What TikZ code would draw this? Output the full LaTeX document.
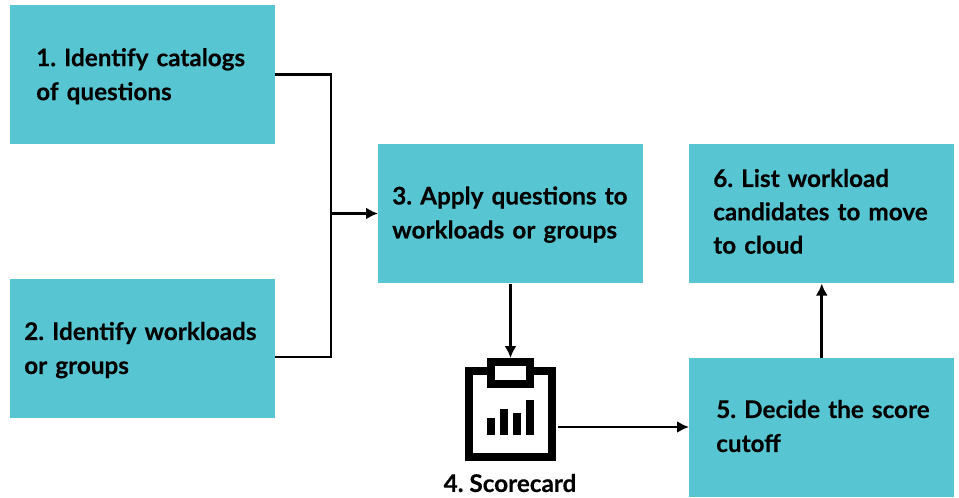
\documentclass[tikz,border=0pt]{standalone}
\usepackage{fontspec}
\setmainfont{Lato}[BoldFont={Lato Bold},BoldFeatures={FakeBold=0.35}]
\usetikzlibrary{arrows.meta}
\definecolor{teal1}{HTML}{57C6D2}
\tikzset{
  x=0.75pt,y=-0.75pt,
  lbl/.style={font=\bfseries\fontsize{18.2pt}{25.5pt}\selectfont\frenchspacing,text=black},
  box/.style={lbl,fill=teal1,draw=none,anchor=north west,minimum height=104.25pt,
    text width={198.75pt-2*#1*0.75pt},inner xsep={#1*0.75pt},inner ysep=0pt,align=left},
  firstbase/.style={text height=0pt,text depth=#1},
  conn/.style={draw=black,line width=2.2pt},
  arr/.style={conn,-{Latex[length=9pt,width=9pt]}},
  icon/.style={draw=black,line width=6.3pt,fill=white,inner sep=0pt},
  bar/.style={fill=black,draw=none}
}
\begin{document}
\begin{tikzpicture}
\useasboundingbox (0,0) rectangle (959,497);
\node[box=26,firstbase=12.9pt] (b1) at (10,5) {1. Identify catalogs\\of questions};
\node[box=14,firstbase=13.2pt] (b2) at (10,279) {2. Identify workloads\\or groups};
\node[box=14,firstbase=13.95pt] (b3) at (378,144) {3. Apply questions to\\workloads or groups};
\node[box=24,firstbase=40.2pt,font=\bfseries\fontsize{18.2pt}{25pt}\selectfont\frenchspacing] (b6) at (689,144) {6. List workload\\candidates to move\\to cloud};
\node[box=27,firstbase=14.7pt] (b5) at (689,358) {\mbox{5. Decide the score}\\cutoff};
% icon
\draw[icon] (469.2,371.2) rectangle (551.8,456.8);
\draw[icon] (491.2,362.2) rectangle (530,383.8);
\coordinate (clip) at (510.5,358);
\coordinate (icr) at (558,427);
\fill[bar] (487,418) rectangle (495,435);
\fill[bar] (500,409) rectangle (508,435);
\fill[bar] (513,413) rectangle (521,435);
\fill[bar] (526,400) rectangle (534,435);
\node[lbl,anchor=center] (sc) at (510,483) {\bfseries 4. Scorecard};
% connectors
\coordinate (j) at (331,213.5);
\coordinate (s1) at (275,74.5);
\coordinate (s2) at (275,357);
\draw[conn,line cap=butt] (s1) -- (331,74.5) -- (331,357) -- (s2);
\draw[arr] (j) -- (b3.west |- j);
\draw[arr] (b3.south -| clip) -- (clip);
\draw[arr] (icr) -- (b5.west |- icr);
\draw[arr] (b5.north) -- (b6.south);
\end{tikzpicture}
\end{document}
